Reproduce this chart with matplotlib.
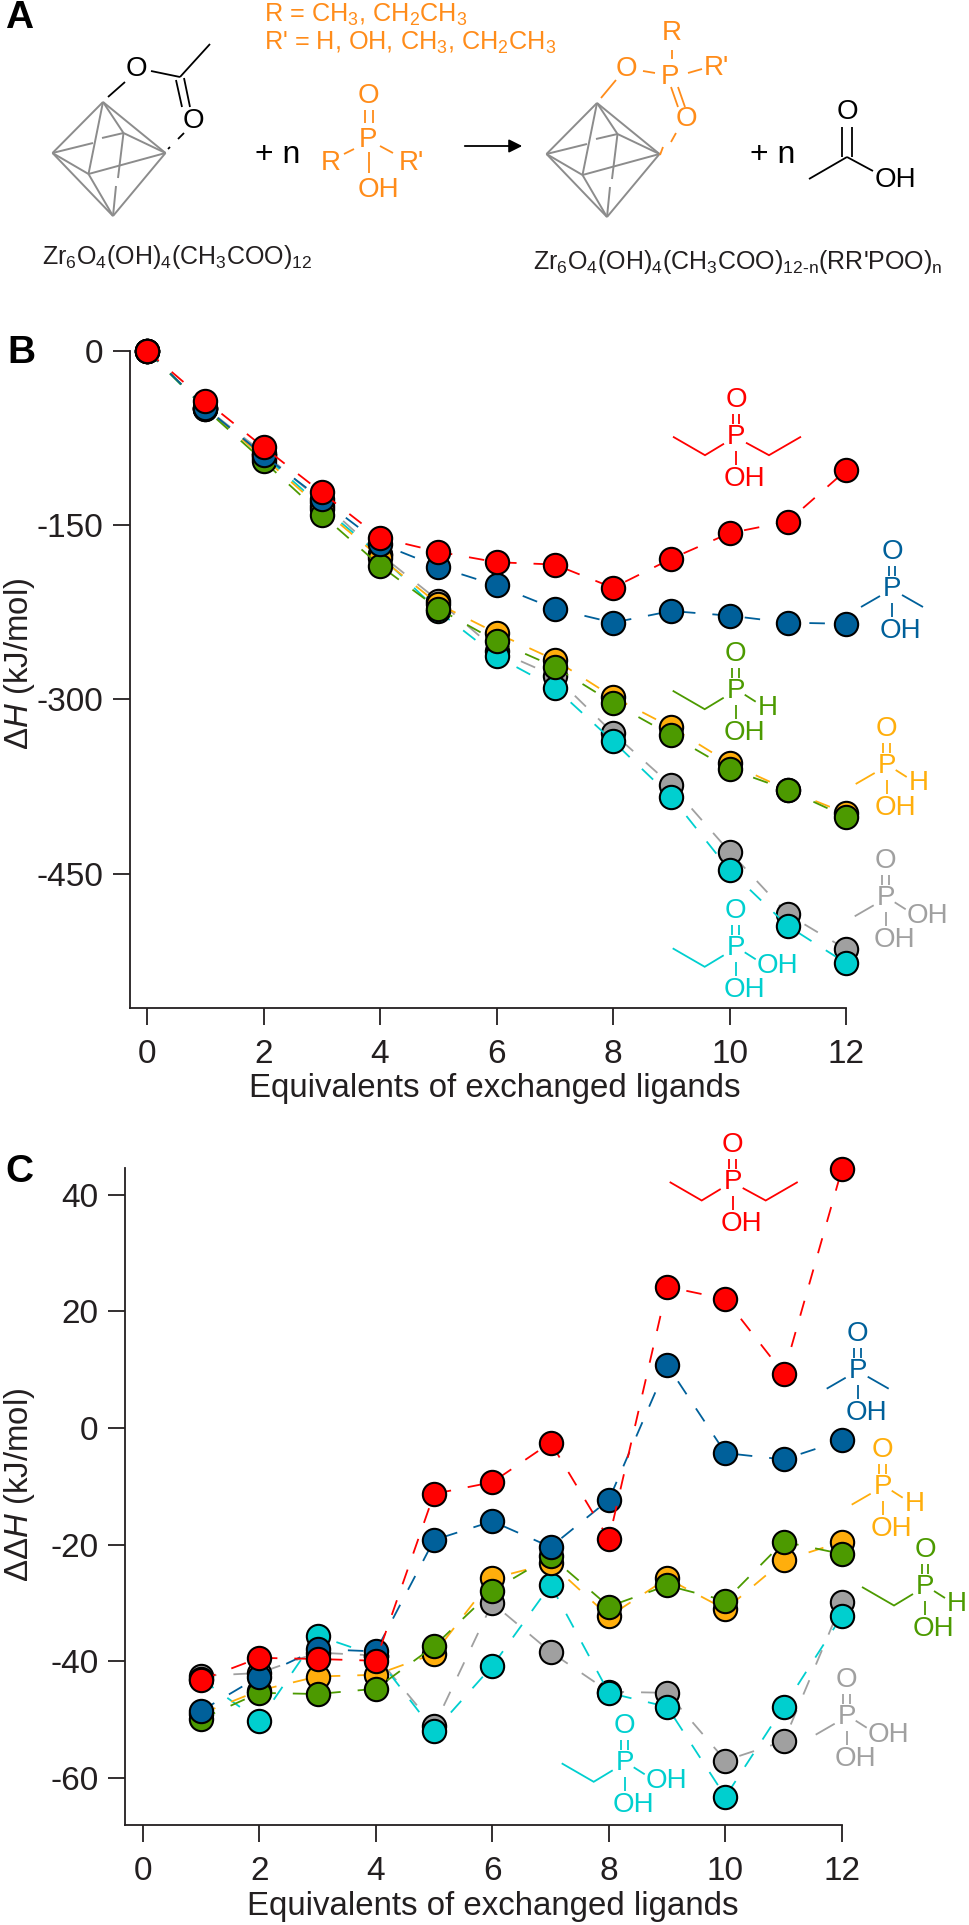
"""Ligand exchange enthalpies on the Zr6 acetate cluster: scheme plus two panels."""
import matplotlib
matplotlib.use("Agg")
import matplotlib.pyplot as plt

plt.rcParams["font.family"] = ["Liberation Sans", "DejaVu Sans"]
plt.rcParams["mathtext.fontset"] = "custom"
plt.rcParams["mathtext.rm"] = "Liberation Sans"
plt.rcParams["mathtext.it"] = "Liberation Sans:italic"
plt.rcParams["axes.unicode_minus"] = False

W, H = 969, 1925

RED = "#ff0000"
BLUE = "#00609a"
GREEN = "#4c9a00"
ORANGE = "#ffae0c"
GREY = "#a0a0a0"
CYAN = "#00cfcf"
SCHEME_ORANGE = "#ff8c1a"
INK = "#231f20"

# panel B: delta H (kJ/mol) for 0..12 equivalents
b_x = list(range(13))
b_grey = [0, -49, -88, -130, -175, -215, -258, -280, -329, -374, -431, -485, -515]
b_cyan = [0, -50, -90, -134, -176, -224, -263, -290, -336, -384, -447, -495, -527]
b_orange = [0, -49, -92, -136, -178, -218, -243, -266, -298, -324, -355, -378, -398]
b_green = [0, -50, -95, -141, -185, -222, -250, -272, -303, -331, -360, -378, -401]
b_blue = [0, -49, -90, -128, -166, -186, -202, -222, -234, -224, -228, -234, -235]
b_red = [0, -43, -83, -122, -161, -173, -182, -184, -204, -179, -157, -147, -103]

# panel C: delta delta H (kJ/mol) for 1..12 equivalents
c_x = list(range(1, 13))
c_grey = [-42.5, -42, -38.5, -39, -51.1, -30, -38.4, -45.2, -45.4, -57, -53.7, -29.9]
c_cyan = [-43, -50.2, -35.6, -39, -52, -40.8, -26.9, -45.4, -47.8, -63.2, -47.8, -32.2]
c_orange = [-49, -45, -42.6, -42.3, -38.7, -25.8, -23.2, -32.3, -25.8, -31.1, -22.7, -19.5]
c_green = [-49.9, -45.4, -45.6, -44.7, -37.4, -27.9, -22, -30.6, -27, -29.6, -19.5, -21.6]
c_blue = [-48.5, -42.6, -37.9, -38.3, -19.2, -16, -20.4, -12.3, 10.8, -4.3, -5.4, -2.1]
c_red = [-43.2, -39.4, -39.6, -39.9, -11.3, -9.3, -2.5, -19.1, 24.2, 22.1, 9.3, 44.4]

x_ticks = [0, 2, 4, 6, 8, 10, 12]
b_y_ticks = [0, -150, -300, -450]
c_y_ticks = [40, 20, 0, -20, -40, -60]
x_label = "Equivalents of exchanged ligands"

fig = plt.figure(figsize=(W / 100, H / 100), dpi=100)

# overlay in image pixels, used for the drawn structures and label placement
ov = fig.add_axes([0, 0, 1, 1], zorder=5)
ov.set_xlim(0, W)
ov.set_ylim(H, 0)
ov.axis("off")
ov.patch.set_alpha(0)


def seg(points, color, lw=1.3):
    xs, ys = zip(*points)
    ov.plot(xs, ys, color=color, lw=lw, solid_capstyle="butt", solid_joinstyle="miter")


def atom(x, y, s, color, size=20, ha="center"):
    ov.text(x, y, s, color=color, fontsize=size, ha=ha, va="center")


def phosphinic(px, py, color, left, right):
    atom(px, py, "P", color)
    atom(px, py - 37, "O", color)
    seg([(px - 3.3, py - 23), (px - 3.3, py - 13)], color)
    seg([(px + 3.3, py - 23), (px + 3.3, py - 13)], color)
    seg([(px, py + 14), (px, py + 28)], color)
    atom(px - 12, py + 42, "OH", color, ha="left")
    if left == "ethyl":
        seg([(px - 12, py + 7), (px - 31, py + 18.5), (px - 63, py)], color)
    else:
        seg([(px - 12, py + 7), (px - 31, py + 18)], color)
    if right == "ethyl":
        seg([(px + 10, py + 6), (px + 33, py + 18.5), (px + 65, py)], color)
    elif right == "methyl":
        seg([(px + 10, py + 6), (px + 31, py + 18)], color)
    elif right == "H":
        seg([(px + 9, py + 4), (px + 20, py + 11)], color)
        atom(px + 32, py + 17, "H", color)
    else:
        seg([(px + 9, py + 4), (px + 20, py + 11)], color)
        atom(px + 21, py + 18, "OH", color, ha="left")


def octahedron(dx, dy):
    c = "#8c8c8c"
    top, lft, rgt, bot = (103, 102), (52.5, 153), (165.5, 153), (113, 216)
    back, front = (123.5, 133), (88.5, 174)
    for a, b in [(top, lft), (top, rgt), (lft, bot), (rgt, bot), (front, bot),
                 (top, front), (lft, front), (front, rgt), (top, back), (back, rgt),
                 (lft, (93, 143)), ((102, 138), back), (back, (118, 178)), ((116, 186), bot)]:
        seg([(a[0] + dx, a[1] + dy), (b[0] + dx, b[1] + dy)], c, lw=1.4)


def scheme():
    k = "black"
    o = SCHEME_ORANGE
    ov.text(5, 18, "A", fontsize=28, fontweight="bold", color="black", va="center")
    octahedron(0, 0)
    octahedron(494, 1)

    # acetate on the left cluster
    seg([(108, 97), (125, 82)], k)
    atom(136, 69, "O", k)
    seg([(151, 71), (180, 77)], k)
    seg([(180, 77), (210, 44)], k)
    seg([(176, 80), (182, 107)], k)
    seg([(184, 78), (190, 107)], k)
    atom(193, 121, "O", k)
    seg([(184, 133), (178, 139)], k)
    seg([(170, 147), (168, 149)], k)

    ov.text(264, 15, r"R = CH$_3$, CH$_2$CH$_3$", color=o, fontsize=18.2, va="center")
    ov.text(264, 43, r"R' = H, OH, CH$_3$, CH$_2$CH$_3$", color=o, fontsize=18.2, va="center")

    atom(278, 155, "+ n", k, size=23)

    # free phosphonic species
    atom(368, 140, "P", o)
    atom(368, 96, "O", o)
    seg([(365, 110), (365, 123)], o)
    seg([(373, 110), (373, 123)], o)
    seg([(369, 152), (369, 173)], o)
    atom(358, 190, "OH", o, ha="left")
    atom(331, 163, "R", o)
    seg([(344, 154), (354, 149)], o)
    atom(411, 163, "R'", o)
    seg([(380, 146), (393, 153)], o)

    ov.annotate("", xy=(525, 146), xytext=(462, 146),
                arrowprops=dict(arrowstyle="-|>", color="black", lw=1.3, mutation_scale=20))

    # bound phosphonate on the right cluster
    seg([(601, 98), (616, 80)], o)
    atom(626, 69, "O", o)
    seg([(643, 71), (655, 73)], o)
    atom(670, 77, "P", o)
    atom(672, 33, "R", o)
    seg([(672, 50), (672, 59)], o)
    atom(716, 68, "R'", o)
    seg([(688, 73), (702, 69)], o)
    seg([(671, 87), (678, 107)], o)
    seg([(678, 87), (685, 107)], o)
    atom(686, 119, "O", o)
    seg([(676, 133), (671, 142)], o)
    seg([(663, 147), (660, 155)], o)

    atom(773, 155, "+ n", k, size=23)

    # acetic acid
    atom(847, 112, "O", k)
    seg([(842, 127), (842, 157)], k)
    seg([(852, 127), (852, 157)], k)
    seg([(847, 157), (809, 179)], k)
    seg([(847, 157), (873, 171)], k)
    atom(875, 180, "OH", k, ha="left")

    ov.text(42, 257, r"Zr$_6$O$_4$(OH)$_4$(CH$_3$COO)$_{12}$", color=INK, fontsize=18, va="center")
    ov.text(533, 262, r"Zr$_6$O$_4$(OH)$_4$(CH$_3$COO)$_{\text{12-n}}$(RR'POO)$_\mathrm{n}$",
            color=INK, fontsize=18, va="center")


def panel_axes(left, right, top, bottom, xlim, ylim):
    ax = fig.add_axes([left / W, 1 - bottom / H, (right - left) / W, (bottom - top) / H], zorder=2)
    ax.set_xlim(*xlim)
    ax.set_ylim(*ylim)
    ax.patch.set_alpha(0)
    for side in ("top", "right"):
        ax.spines[side].set_visible(False)
    for side in ("left", "bottom"):
        ax.spines[side].set_linewidth(1.3)
        ax.spines[side].set_color(INK)
    ax.tick_params(axis="both", length=12.2, width=1.3, color=INK, labelcolor=INK, labelsize=24)
    ax.tick_params(axis="x", pad=10)
    ax.tick_params(axis="y", pad=7)
    return ax


def draw_series(ax, x, series):
    for z, (values, color) in enumerate(series):
        ax.plot(x, values, color=color, lw=1.3, dashes=(8.6, 9.4), dash_capstyle="butt",
                marker="o", ms=16.8, mfc=color, mec="black", mew=1.5, clip_on=False, zorder=3 + z)


scheme()

# panel B
ax_b = panel_axes(130, 846, 350.7, 1008, (-0.292, 12), (-565.6, 0))
draw_series(ax_b, b_x, [(b_grey, GREY), (b_cyan, CYAN), (b_orange, ORANGE),
                        (b_green, GREEN), (b_blue, BLUE), (b_red, RED)])
ax_b.set_xticks(x_ticks)
ax_b.set_yticks(b_y_ticks)
ax_b.set_xlabel(x_label, fontsize=23.8, color=INK, va="center")
ax_b.xaxis.set_label_coords(495, 1088, transform=ov.transData)
ax_b.set_ylabel(r"$\Delta\mathit{H}$ (kJ/mol)", fontsize=23.8, color=INK, va="center")
ax_b.yaxis.set_label_coords(20, 664, transform=ov.transData)
ov.text(7, 353, "B", fontsize=28, fontweight="bold", color="black", va="center")

phosphinic(736, 436.7, RED, "ethyl", "ethyl")
phosphinic(892, 589, BLUE, "methyl", "methyl")
phosphinic(735.7, 690.7, GREEN, "ethyl", "H")
phosphinic(886.7, 766, ORANGE, "methyl", "H")
phosphinic(885.7, 898.3, GREY, "methyl", "OH")
phosphinic(735.7, 948.3, CYAN, "ethyl", "OH")

# panel C
ax_c = panel_axes(125.3, 842, 1168, 1824.7, (-0.298, 12), (-68, 44.56))
draw_series(ax_c, c_x, [(c_grey, GREY), (c_cyan, CYAN), (c_orange, ORANGE),
                        (c_green, GREEN), (c_blue, BLUE), (c_red, RED)])
ax_c.set_xticks(x_ticks)
ax_c.set_yticks(c_y_ticks)
ax_c.set_xlabel(x_label, fontsize=23.8, color=INK, va="center")
ax_c.xaxis.set_label_coords(492.5, 1907, transform=ov.transData)
ax_c.set_ylabel(r"$\Delta\Delta\mathit{H}$ (kJ/mol)", fontsize=23.8, color=INK, va="center")
ax_c.yaxis.set_label_coords(20, 1485, transform=ov.transData)
ov.text(5, 1172, "C", fontsize=28, fontweight="bold", color="black", va="center")

phosphinic(732.7, 1182, RED, "ethyl", "ethyl")
phosphinic(857.7, 1370.7, BLUE, "methyl", "methyl")
phosphinic(882.7, 1486.7, ORANGE, "methyl", "H")
phosphinic(925, 1587, GREEN, "ethyl", "H")
phosphinic(846.7, 1716.7, GREY, "methyl", "OH")
phosphinic(624.7, 1763.3, CYAN, "ethyl", "OH")

fig.savefig("out.png", dpi=100)
